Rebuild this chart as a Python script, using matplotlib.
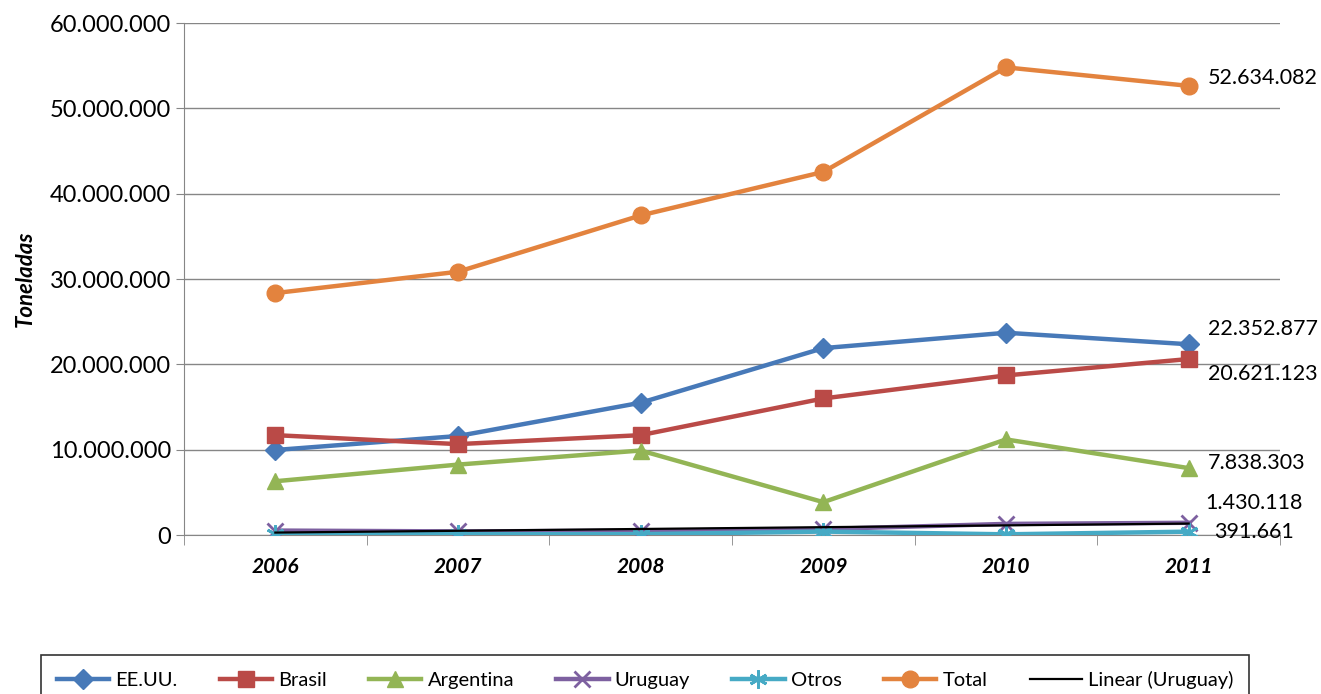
import numpy as np
import matplotlib.pyplot as plt
from matplotlib.ticker import FuncFormatter

plt.rcParams['font.family'] = ['Lato', 'DejaVu Sans']

years = ['2006', '2007', '2008', '2009', '2010', '2011']
eeuu = [9960000, 11600000, 15500000, 21900000, 23700000, 22352877]
brasil = [11700000, 10650000, 11700000, 16000000, 18700000, 20621123]
argentina = [6300000, 8250000, 9900000, 3850000, 11200000, 7838303]
uruguay = [520000, 420000, 500000, 700000, 1300000, 1430118]
otros = [80000, 90000, 100000, 400000, 80000, 391661]
total = [28350000, 30850000, 37450000, 42550000, 54800000, 52634082]

series = [
    ('EE.UU.', eeuu, '#4779B8', 'D', 10),
    ('Brasil', brasil, '#BA4A47', 's', 11),
    ('Argentina', argentina, '#93B555', '^', 12),
    ('Uruguay', uruguay, '#7D60A0', 'x', 12),
    ('Otros', otros, '#46AAC5', (6, 2, 0), 13),
    ('Total', total, '#E3833E', 'o', 12),
]


def miles(v, pos):
    if v == 0:
        return '0'
    return f'{int(v):,}'.replace(',', '.')


fig = plt.figure(figsize=(13.21, 6.94), dpi=100)
ax = fig.add_axes([184 / 1321, 1 - 535 / 694, (1280 - 184) / 1321, (535 - 23) / 694])

x = np.arange(len(years))
for name, vals, col, mk, ms in series:
    ax.plot(x, vals, color=col, lw=3.2, marker=mk, markersize=ms,
            markeredgewidth=2 if mk in ('x', (6, 2, 0)) else 1,
            markeredgecolor=col, label=name, zorder=3)

# linea de tendencia de Uruguay
coef = np.polyfit(x, uruguay, 1)
ax.plot(x, np.polyval(coef, x), color='black', lw=1.6, label='Linear (Uruguay)', zorder=4)

# etiquetas en 2011
etiquetas = [(total, 6, 0), (eeuu, 11, 0), (brasil, -11, 0), (argentina, 4, 0),
             (uruguay, 14, -2), (otros, 0, 4)]
for vals, dy, dx in etiquetas:
    ax.annotate(miles(vals[-1], None), (x[-1], vals[-1]), xytext=(14 + dx, dy),
                textcoords='offset points', fontsize=15.5, va='center', ha='left',
                annotation_clip=False)

ax.set_xlim(-0.5, len(years) - 0.5)
ax.set_ylim(0, 60000000)
ax.set_yticks(np.arange(0, 60000001, 10000000))
ax.yaxis.set_major_formatter(FuncFormatter(miles))
ax.set_xticks(x)
ax.set_xticklabels(years, fontweight='bold', fontstyle='italic', fontsize=15)
ax.set_xticks(np.arange(-0.5, len(years)), minor=True)
ax.tick_params(axis='x', which='major', length=0, pad=16)
ax.tick_params(axis='x', which='minor', length=7, color='#868686', direction='out')
ax.tick_params(axis='y', labelsize=17, length=6, color='#868686', direction='out')
ax.grid(axis='y', color='#868686', lw=1)
ax.set_axisbelow(True)
for s in ['top', 'right']:
    ax.spines[s].set_visible(False)
for s in ['left', 'bottom']:
    ax.spines[s].set_color('#868686')
ax.set_ylabel('Toneladas', fontweight='bold', fontstyle='italic', fontsize=16, labelpad=10)

leg = ax.legend(loc='upper center', bbox_to_anchor=(645 / 1321, 1 - 655 / 694),
                bbox_transform=fig.transFigure, ncol=7, fontsize=14.5,
                frameon=True, fancybox=False, handlelength=2.6, handletextpad=0.3,
                columnspacing=2.1, borderaxespad=0, borderpad=0.8)
leg.get_frame().set_edgecolor('black')
leg.get_frame().set_linewidth(1.2)

fig.savefig('out.png', dpi=100)
